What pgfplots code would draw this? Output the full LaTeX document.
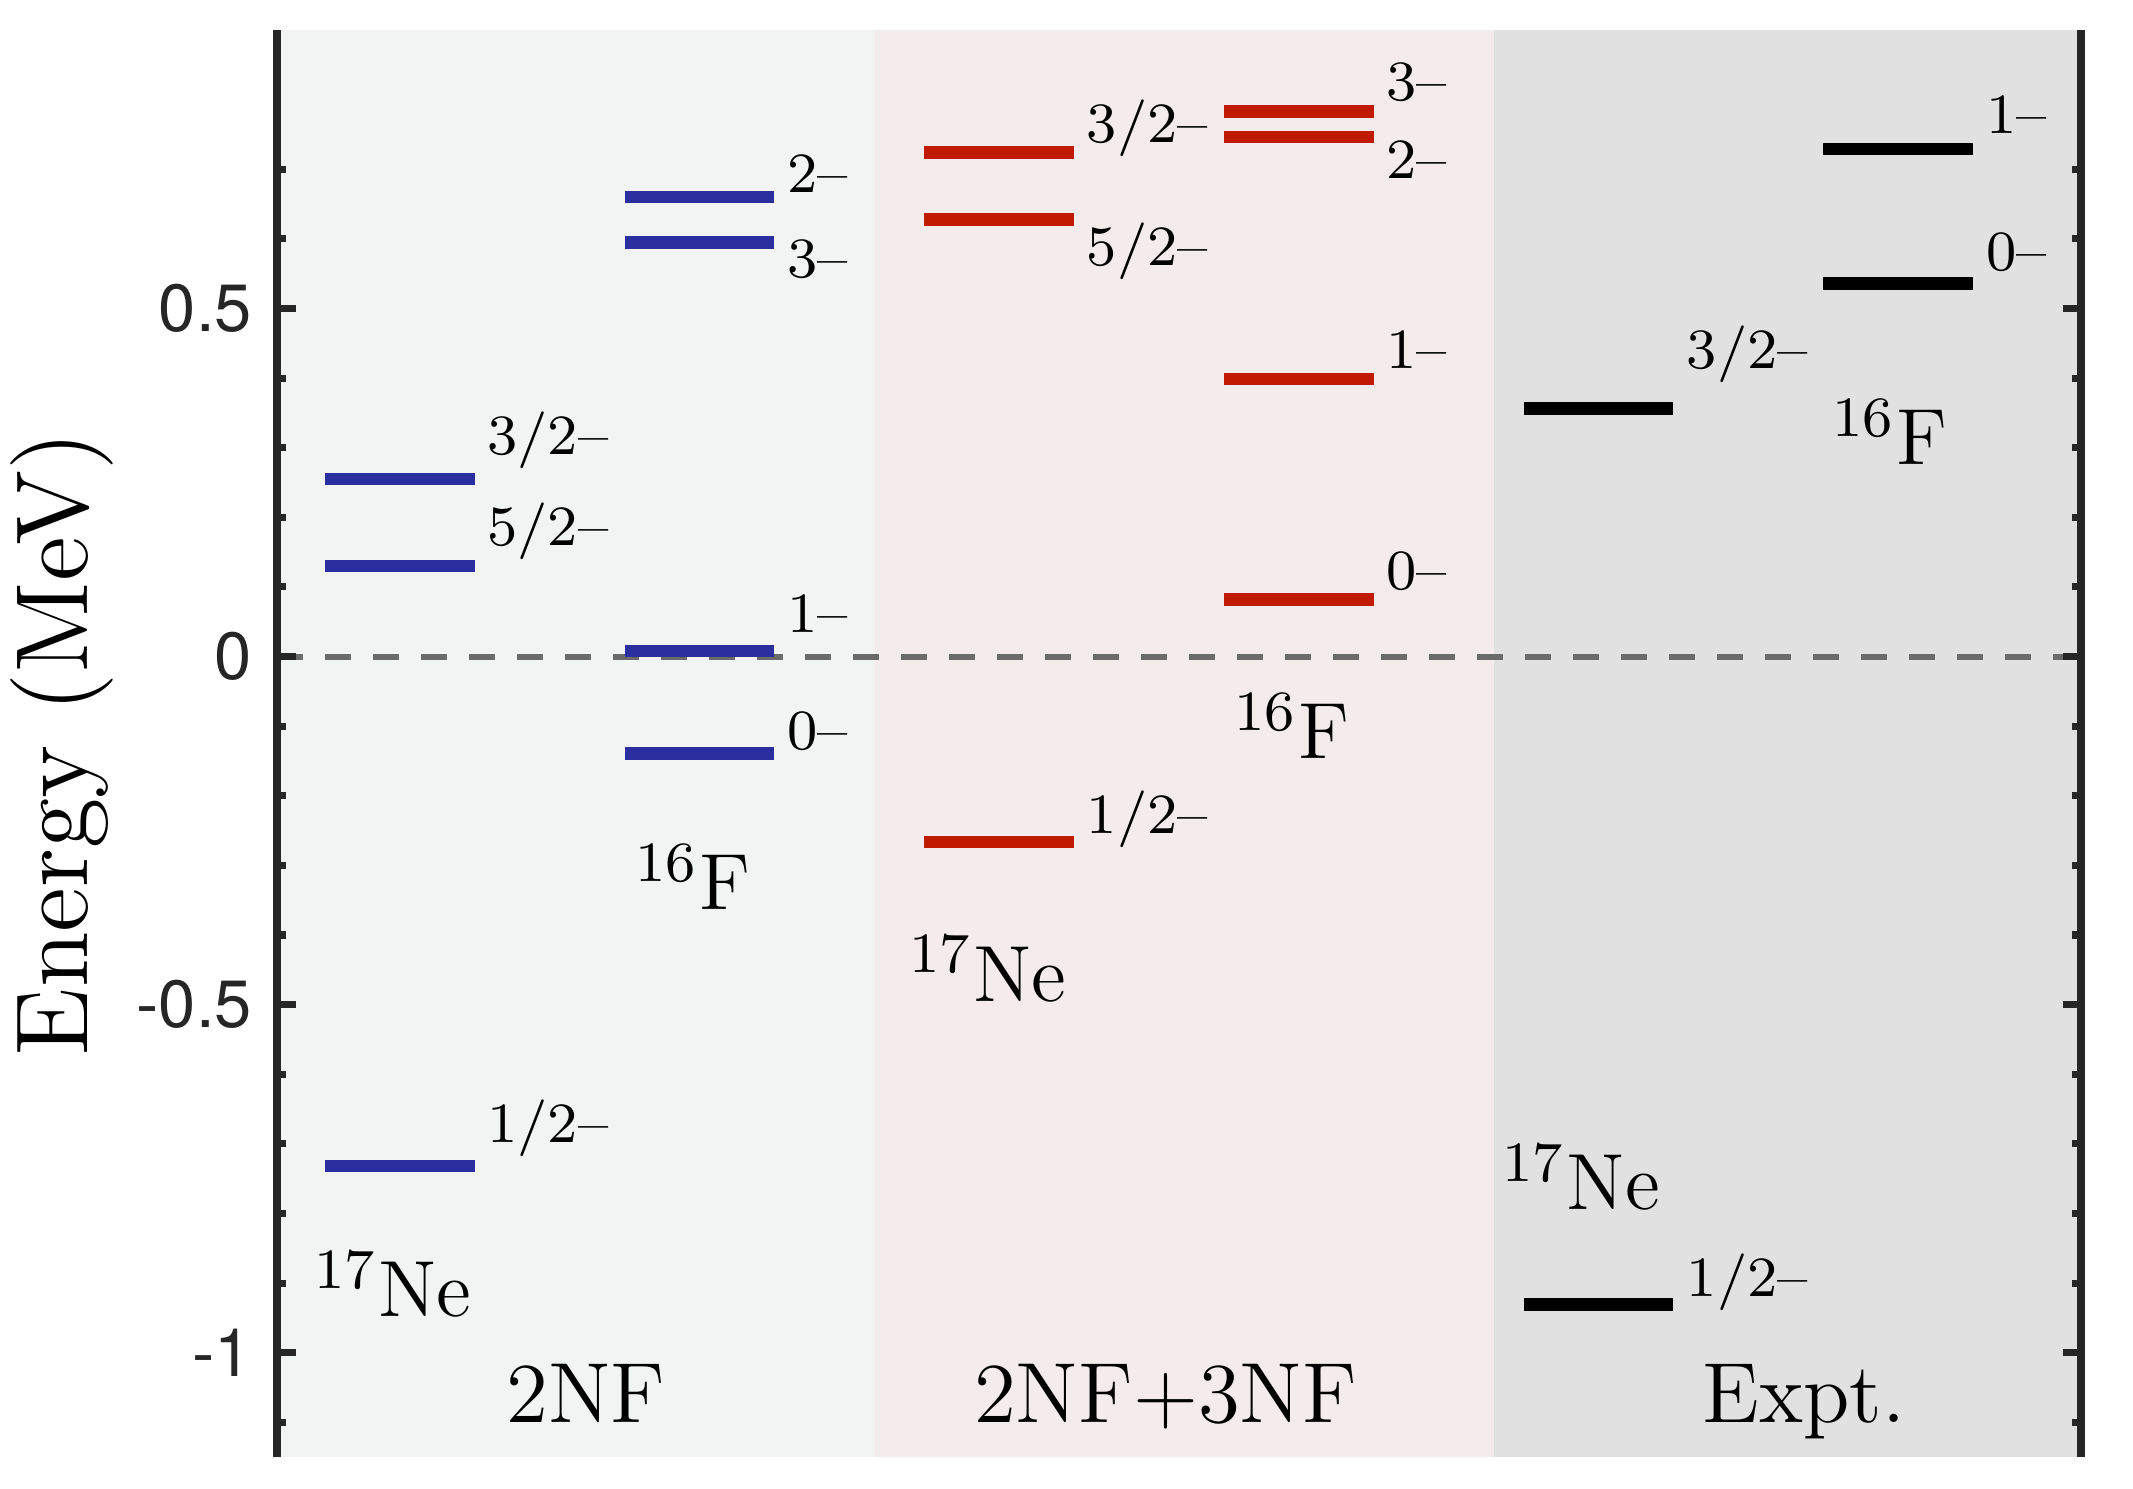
\documentclass[border=0pt]{standalone}
\usepackage{pgfplots}
\pgfplotsset{compat=1.18}
\usepackage{fontspec}
\newfontfamily\ticksans{TeX Gyre Heros}

\definecolor{axgray}{HTML}{262626}
\definecolor{bgtwo}{HTML}{F2F4F3}
\definecolor{bgthree}{HTML}{F4EBED}
\definecolor{bgexp}{HTML}{E1E1E1}
\definecolor{levblue}{HTML}{2A2E9F}
\definecolor{levred}{HTML}{C01A00}
\definecolor{zerogray}{HTML}{6B6B6B}

% J^pi label right of a level, and nucleus label
\newcommand\jp[3]{\node[anchor=base west, inner sep=0, font=\fontsize{8}{9.6}\selectfont] at (axis cs:#1,#2) {#3--};}
\newcommand\nuc[4]{\node[anchor=base west, inner sep=0, font=\fontsize{11.2}{13.5}\selectfont] at (axis cs:#1,#2) {$^{#3}$#4};}

\begin{document}
\begin{tikzpicture}
\begin{axis}[
  scale only axis,
  width=253.7pt, height=200.7pt,
  xmin=0.68, xmax=12.72,
  ymin=-1.15, ymax=0.9,
  axis x line=none,
  axis y line=box,
  y axis line style={-, line width=1pt, color=axgray},
  ytick={-1,-0.5,0,0.5},
  yticklabels={-1,-0.5,0,0.5},
  minor ytick={-1.1,-0.9,-0.8,-0.7,-0.6,-0.4,-0.3,-0.2,-0.1,0.1,0.2,0.3,0.4,0.6,0.7},
  tick align=inside,
  major tick length=2.6pt, minor tick length=1.3pt,
  tick style={line width=1pt, color=axgray},
  yticklabel style={font=\ticksans\fontsize{9.4}{11}\selectfont, text=axgray},
  ylabel={Energy (MeV)},
  ylabel style={at={(axis description cs:-0.119,0.5)}, anchor=center,
    font=\fontsize{14.4}{17}\selectfont},
  axis on top,
  unbounded coords=jump,
  clip=false,
]
% shaded columns
\fill[bgtwo] (axis cs:0.68,-1.15) rectangle (axis cs:4.67,0.9);
\fill[bgthree] (axis cs:4.67,-1.15) rectangle (axis cs:8.80,0.9);
\fill[bgexp] (axis cs:8.80,-1.15) rectangle (axis cs:12.72,0.9);

% threshold
\addplot[zerogray, line width=0.85pt, dash pattern=on 3.6pt off 3.15pt]
  coordinates {(0.68,0)(12.72,0)};

% 2NF
\addplot[levblue, line width=1.75pt] coordinates {
  (1,0.255)(2,0.255) (2,nan)
  (1,0.130)(2,0.130) (2,nan)
  (1,-0.732)(2,-0.732) (2,nan)
  (3,0.660)(4,0.660) (4,nan)
  (3,0.595)(4,0.595) (4,nan)
  (3,0.008)(4,0.008) (4,nan)
  (3,-0.139)(4,-0.139)};
% 2NF+3NF
\addplot[levred, line width=1.75pt] coordinates {
  (5,0.724)(6,0.724) (6,nan)
  (5,0.628)(6,0.628) (6,nan)
  (5,-0.266)(6,-0.266) (6,nan)
  (7,0.783)(8,0.783) (8,nan)
  (7,0.746)(8,0.746) (8,nan)
  (7,0.399)(8,0.399) (8,nan)
  (7,0.082)(8,0.082)};
% Expt.
\addplot[black, line width=1.75pt] coordinates {
  (9,0.356)(10,0.356) (10,nan)
  (9,-0.931)(10,-0.931) (10,nan)
  (11,0.729)(12,0.729) (12,nan)
  (11,0.536)(12,0.536)};

\jp{2.075}{0.290}{3/2}
\jp{2.075}{0.159}{5/2}
\jp{2.075}{-0.698}{1/2}
\jp{4.075}{0.666}{2}
\jp{4.075}{0.545}{3}
\jp{4.075}{0.034}{1}
\jp{4.075}{-0.134}{0}
\jp{6.075}{0.739}{3/2}
\jp{6.075}{0.562}{5/2}
\jp{6.075}{-0.254}{1/2}
\jp{8.075}{0.799}{3}
\jp{8.075}{0.686}{2}
\jp{8.075}{0.414}{1}
\jp{8.075}{0.097}{0}
\jp{10.08}{0.414}{3/2}
\jp{10.08}{-0.919}{1/2}
\jp{12.08}{0.751}{1}
\jp{12.08}{0.555}{0}

\nuc{0.92}{-0.948}{17}{Ne}
\nuc{3.06}{-0.364}{16}{F}
\nuc{4.89}{-0.495}{17}{Ne}
\nuc{7.06}{-0.147}{16}{F}
\nuc{8.85}{-0.794}{17}{Ne}
\nuc{11.05}{0.276}{16}{F}

\node[anchor=base, font=\fontsize{12}{14}\selectfont] at (axis cs:2.74,-1.1) {2NF};
\node[anchor=base, font=\fontsize{12}{14}\selectfont] at (axis cs:6.61,-1.1) {2NF+3NF};
\node[anchor=base, font=\fontsize{12}{14}\selectfont] at (axis cs:10.87,-1.1) {Expt.};
\end{axis}
\pgfresetboundingbox
\path[use as bounding box] (current axis.south west) ++(-38.96pt,-4.4pt)
  rectangle ([shift={(7.31pt,4.22pt)}]current axis.north east);
\end{tikzpicture}
\end{document}
